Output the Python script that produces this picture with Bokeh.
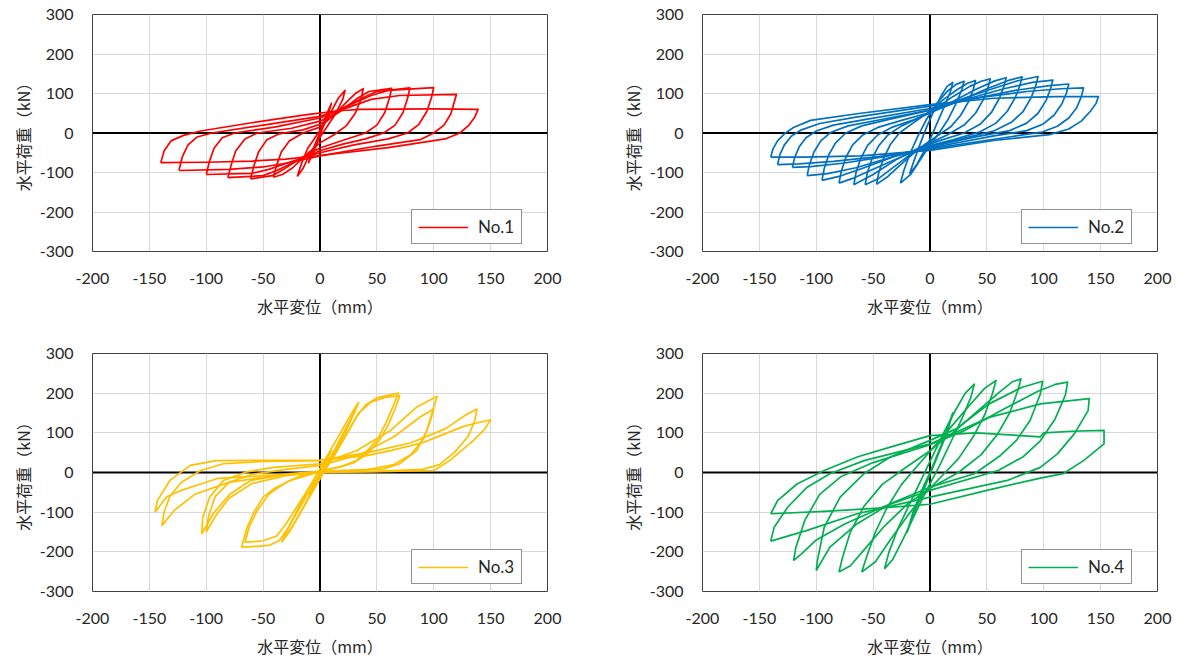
from bokeh.plotting import figure
from bokeh.layouts import column, row
from bokeh.models import Range1d, FixedTicker, Span, Legend, LegendItem
from bokeh.embed import file_html
from bokeh.resources import INLINE

# ---------------- axis ticks / labels ----------------
X_TICKS = [-200, -150, -100, -50, 0, 50, 100, 150, 200]
X_TICK_LABELS = ["-200", "-150", "-100", "-50", "0", "50", "100", "150", "200"]
Y_TICKS = [-300, -200, -100, 0, 100, 200, 300]
Y_TICK_LABELS = ["-300", "-200", "-100", "0", "100", "200", "300"]
X_TITLE = "水平変位（mm）"
Y_TITLE = "水平荷重（kN）"

SERIES_NAMES = ["No.1", "No.2", "No.3", "No.4"]
SERIES_COLORS = ["#FF0000", "#0070C0", "#FFC000", "#00B050"]

# ---------------- hysteresis data (displacement mm, load kN) ----------------
NO1_CYCLES = [
    [(0, 0), (4, 35), (10, 75), (7, 45), (2, 10), (-3, -30), (-10, -75), (-6, -40), (-1, -5), (0, 0)],
    [(-20, -110), (-16, -75), (-11, -40), (-4, -10), (3, 20), (10, 55), (16, 88), (22, 108), (20, 85),
     (14, 50), (6, 15), (-2, -20), (-10, -60), (-15, -90), (-20, -110)],
    [(-41, -112), (-38, -80), (-34, -48), (-27, -20), (-15, 0), (0, 15), (12, 45), (24, 80), (32, 102),
     (38, 112), (36, 85), (31, 50), (23, 18), (12, -5), (0, -25), (-12, -55), (-24, -88), (-33, -105), (-41, -112)],
    [(-61, -116), (-58, -82), (-54, -48), (-47, -18), (-36, -2), (-15, 8), (0, 22), (18, 55), (33, 88),
     (43, 105), (63, 113), (61, 88), (57, 52), (50, 20), (40, 0), (25, -14), (0, -38), (-18, -65),
     (-32, -92), (-42, -108), (-61, -116)],
    [(-81, -113), (-78, -80), (-74, -45), (-66, -15), (-55, 0), (-25, 12), (0, 30), (20, 60), (38, 90),
     (50, 105), (79, 114), (77, 88), (73, 52), (66, 20), (56, 0), (40, -15), (20, -28), (0, -45),
     (-20, -70), (-38, -95), (-50, -108), (-81, -113)],
    [(-100, -105), (-97, -70), (-93, -38), (-86, -12), (-75, 0), (-40, 15), (0, 38), (25, 70), (45, 95),
     (60, 108), (100, 115), (98, 90), (94, 55), (87, 22), (77, 0), (60, -15), (30, -30), (0, -50),
     (-25, -72), (-45, -92), (-60, -102), (-100, -105)],
    [(-124, -95), (-121, -60), (-116, -30), (-108, -10), (-95, 0), (-50, 20), (0, 42), (25, 65), (45, 85),
     (70, 95), (120, 98), (118, 78), (115, 48), (109, 20), (100, 0), (88, -17), (50, -33), (0, -58),
     (-25, -74), (-50, -86), (-80, -92), (-124, -95)],
    [(-140, -75), (-137, -45), (-131, -20), (-120, -6), (-105, 5), (-60, 26), (-10, 47), (20, 57), (35, 60),
     (100, 61), (139, 60), (136, 40), (131, 20), (123, 0), (110, -15), (60, -37), (0, -57), (-30, -66),
     (-60, -71), (-100, -74), (-140, -75)],
]

NO2_CYCLES = [
    [(-18, -103), (-14, -70), (-9, -30), (-3, 15), (4, 60), (10, 95), (15, 118), (20, 128), (18, 105),
     (13, 70), (7, 30), (1, -10), (-6, -50), (-12, -82), (-18, -103)],
    [(-26, -127), (-23, -95), (-18, -55), (-11, -10), (-3, 35), (6, 75), (15, 105), (23, 123), (30, 131),
     (28, 110), (23, 75), (16, 35), (8, 0), (0, -30), (-9, -70), (-17, -105), (-26, -127)],
    [(-47, -130), (-45, -100), (-41, -65), (-35, -30), (-27, 0), (-15, 25), (0, 55), (12, 85), (24, 110),
     (33, 126), (40, 133), (38, 110), (34, 80), (27, 45), (18, 15), (5, -10), (-10, -40), (-25, -78),
     (-37, -110), (-47, -130)],
    [(-57, -131), (-55, -100), (-51, -65), (-45, -32), (-37, -5), (-25, 18), (-10, 38), (5, 62), (20, 92),
     (35, 118), (45, 131), (53, 137), (51, 115), (47, 85), (40, 50), (30, 20), (15, -5), (0, -25),
     (-15, -50), (-30, -82), (-45, -115), (-57, -131)],
    [(-67, -131), (-65, -100), (-61, -65), (-55, -32), (-46, -5), (-33, 15), (-15, 33), (0, 50), (20, 80),
     (40, 110), (57, 132), (67, 140), (65, 118), (61, 88), (54, 52), (44, 22), (30, 0), (10, -18),
     (-10, -38), (-30, -68), (-50, -105), (-67, -131)],
    [(-80, -127), (-78, -97), (-74, -62), (-68, -30), (-59, -5), (-45, 15), (-25, 32), (0, 52), (25, 80),
     (50, 112), (70, 134), (81, 142), (79, 120), (75, 90), (68, 55), (58, 25), (44, 3), (20, -17),
     (0, -32), (-25, -60), (-50, -92), (-68, -115), (-80, -127)],
    [(-95, -120), (-93, -90), (-89, -55), (-83, -25), (-74, 0), (-60, 18), (-35, 35), (0, 58), (30, 88),
     (55, 112), (78, 133), (95, 143), (93, 120), (89, 90), (82, 55), (72, 28), (56, 5), (30, -13),
     (0, -33), (-30, -58), (-58, -88), (-80, -110), (-95, -120)],
    [(-108, -108), (-106, -80), (-102, -48), (-96, -20), (-87, 2), (-72, 18), (-45, 33), (0, 58), (35, 88),
     (65, 112), (90, 128), (108, 134), (106, 112), (102, 82), (95, 50), (85, 25), (70, 6), (40, -10),
     (0, -35), (-35, -62), (-65, -88), (-90, -103), (-108, -108)],
    [(-121, -87), (-119, -62), (-115, -35), (-109, -12), (-100, 5), (-85, 20), (-55, 35), (0, 62), (40, 88),
     (75, 108), (105, 120), (122, 124), (120, 102), (116, 74), (109, 45), (99, 22), (85, 6), (55, -8),
     (0, -38), (-40, -60), (-75, -76), (-105, -85), (-121, -87)],
    [(-134, -80), (-132, -55), (-128, -30), (-122, -8), (-113, 8), (-97, 24), (-65, 40), (0, 68), (45, 90),
     (85, 105), (115, 112), (135, 114), (133, 92), (129, 64), (122, 38), (112, 17), (98, 2), (65, -12),
     (0, -40), (-45, -60), (-85, -72), (-115, -78), (-134, -80)],
    [(-140, -61), (-138, -40), (-134, -20), (-128, -2), (-120, 14), (-105, 32), (-61, 50), (0, 72), (56, 88),
     (110, 92), (148, 92), (146, 75), (141, 55), (133, 30), (122, 10), (105, -4), (56, -19), (0, -44),
     (-61, -58), (-110, -61), (-140, -61)],
]

NO3_CYCLES = [
    [(0, 0), (5, 30), (10, 55), (5, 25), (0, -3), (-5, -30), (-10, -55), (-5, -25), (0, 0)],
    [(-34, -176), (-28, -140), (-20, -95), (-10, -40), (0, 10), (10, 60), (20, 110), (28, 150), (34, 177),
     (30, 150), (22, 100), (12, 45), (2, -5), (-8, -55), (-18, -105), (-27, -150), (-34, -176)],
    [(-33, -172), (-25, -140), (-15, -90), (-5, -40), (5, 10), (15, 65), (25, 120), (33, 170), (27, 135),
     (17, 80), (7, 25), (-3, -25), (-13, -80), (-23, -130), (-33, -172)],
    [(-69, -188), (-55, -186), (-44, -183), (-36, -172), (-28, -140), (-20, -100), (-10, -50), (0, -10),
     (10, 30), (22, 90), (32, 140), (40, 170), (50, 188), (69, 200), (64, 165), (58, 125), (50, 81),
     (40, 50), (32, 30), (20, 16), (9, 9), (0, 2), (-12, -8), (-26, -20), (-40, -40), (-50, -62),
     (-58, -100), (-64, -138), (-69, -188)],
    [(-66, -176), (-50, -172), (-38, -160), (-30, -130), (-20, -85), (-10, -40), (0, -5), (12, 40),
     (24, 100), (34, 150), (45, 178), (58, 190), (70, 193), (66, 160), (60, 120), (52, 80), (42, 48),
     (30, 25), (15, 12), (0, 4), (-15, -6), (-30, -25), (-45, -55), (-55, -95), (-62, -135), (-66, -176)],
    [(-104, -155), (-103, -113), (-97, -62), (-85, -20), (-65, 1), (-41, 13), (0, 22), (32, 55), (62, 106),
     (85, 165), (103, 192), (100, 165), (94, 106), (85, 55), (70, 22), (56, 9), (0, 3), (-26, -3),
     (-61, -20), (-79, -54), (-94, -104), (-104, -155)],
    [(-100, -150), (-98, -110), (-92, -60), (-80, -25), (-60, -5), (-30, 8), (0, 18), (35, 45), (65, 90),
     (88, 140), (100, 160), (97, 130), (91, 85), (80, 45), (65, 20), (40, 6), (0, 1), (-30, -8),
     (-60, -28), (-80, -65), (-92, -110), (-100, -150)],
    [(-139, -134), (-137, -100), (-132, -60), (-122, -25), (-105, 5), (-85, 22), (-50, 28), (0, 30),
     (45, 52), (80, 75), (110, 110), (128, 145), (138, 160), (136, 130), (130, 90), (118, 50), (105, 20),
     (90, 8), (50, 3), (0, 0), (-40, -8), (-80, -25), (-110, -55), (-128, -95), (-139, -134)],
    [(-145, -100), (-143, -71), (-132, -20), (-114, 18), (-91, 30), (0, 31), (40, 42), (62, 55), (90, 75),
     (106, 93), (125, 115), (135, 123), (150, 133), (145, 110), (135, 81), (114, 30), (100, 5), (60, 3),
     (0, 0), (-50, -8), (-90, -15), (-105, -29), (-122, -45), (-135, -62), (-145, -100)],
]

NO4_CYCLES = [
    [(0, 0), (10, 70), (20, 150), (15, 100), (5, 30), (-5, -40), (-15, -110), (-20, -150), (-15, -100),
     (-5, -30), (0, 0)],
    [(-40, -243), (-36, -200), (-28, -140), (-18, -80), (-8, -20), (2, 40), (12, 100), (22, 155), (31, 200),
     (39, 223), (36, 190), (28, 135), (18, 75), (8, 15), (-4, -50), (-14, -110), (-24, -170), (-33, -220),
     (-40, -243)],
    [(-60, -251), (-56, -215), (-48, -150), (-38, -90), (-25, -30), (-10, 20), (5, 70), (20, 120), (35, 170),
     (48, 212), (58, 232), (55, 200), (48, 145), (38, 90), (25, 35), (10, -10), (-5, -55), (-20, -110),
     (-35, -170), (-48, -225), (-60, -251)],
    [(-80, -251), (-77, -215), (-70, -150), (-58, -85), (-42, -30), (-20, 15), (0, 55), (20, 100), (40, 150),
     (60, 200), (72, 228), (80, 236), (77, 205), (70, 150), (59, 95), (45, 45), (25, 0), (0, -40),
     (-20, -80), (-40, -135), (-58, -195), (-70, -235), (-80, -251)],
    [(-100, -247), (-99, -222), (-93, -138), (-79, -62), (-58, -3), (-35, 39), (0, 81), (23, 110), (52, 173),
     (81, 215), (99, 230), (97, 198), (88, 131), (76, 81), (62, 43), (39, -3), (0, -37), (-35, -79),
     (-64, -129), (-88, -188), (-100, -247)],
    [(-120, -222), (-118, -190), (-110, -120), (-97, -55), (-78, -10), (-50, 25), (0, 70), (30, 105),
     (65, 160), (95, 205), (110, 222), (121, 228), (119, 195), (110, 135), (97, 80), (82, 40), (60, 5),
     (0, -45), (-40, -85), (-75, -130), (-100, -170), (-113, -205), (-120, -222)],
    [(-140, -173), (-137, -138), (-125, -87), (-108, -37), (-88, -3), (-58, 30), (-23, 55), (0, 72),
     (52, 139), (97, 173), (140, 186), (139, 156), (127, 98), (112, 47), (97, 13), (68, -20), (0, -62),
     (-64, -104), (-108, -146), (-140, -173)],
    [(-140, -104), (-134, -71), (-117, -29), (-93, 5), (-64, 39), (-35, 64), (0, 93), (40, 100), (97, 90),
     (100, 100), (125, 104), (153, 106), (153, 72), (135, 30), (117, -3), (97, -14), (50, -45), (0, -80),
     (-45, -90), (-93, -98), (-140, -104)],
]

ALL_CYCLES = [NO1_CYCLES, NO2_CYCLES, NO3_CYCLES, NO4_CYCLES]

TICK_FONT = "Lato"
CJK_FONT = "Noto Sans CJK JP"


def make_panel(cycles, name, color, width, height, b_left, b_right, b_top, b_bottom):
    p = figure(width=width, height=height,
               x_range=Range1d(-200, 200), y_range=Range1d(-300, 300),
               output_backend="svg", toolbar_location=None,
               min_border_left=b_left, min_border_right=b_right,
               min_border_top=b_top, min_border_bottom=b_bottom)
    p.background_fill_color = "white"
    p.border_fill_color = "white"
    p.outline_line_color = "#404040"
    p.outline_line_width = 1

    p.xaxis.ticker = FixedTicker(ticks=X_TICKS)
    p.yaxis.ticker = FixedTicker(ticks=Y_TICKS)
    p.xaxis.major_label_overrides = {t: s for t, s in zip(X_TICKS, X_TICK_LABELS)}
    p.yaxis.major_label_overrides = {t: s for t, s in zip(Y_TICKS, Y_TICK_LABELS)}
    for ax in (p.xaxis, p.yaxis):
        ax.axis_line_color = None
        ax.major_tick_line_color = None
        ax.minor_tick_line_color = None
        ax.major_label_text_font = TICK_FONT
        ax.major_label_text_font_size = "16px"
        ax.major_label_text_color = "#262626"
        ax.axis_label_text_font = CJK_FONT
        ax.axis_label_text_font_size = "16px"
        ax.axis_label_text_font_style = "normal"
        ax.axis_label_text_color = "#262626"
    p.xaxis.major_label_standoff = 15
    p.yaxis.major_label_standoff = 13
    p.xaxis.axis_label = X_TITLE
    p.yaxis.axis_label = Y_TITLE
    p.xaxis.axis_label_standoff = 7
    p.yaxis.axis_label_standoff = 2

    p.xgrid.ticker = FixedTicker(ticks=X_TICKS)
    p.ygrid.ticker = FixedTicker(ticks=Y_TICKS)
    p.grid.grid_line_color = "#D9D9D9"
    p.grid.grid_line_width = 1

    p.add_layout(Span(location=0, dimension="height", line_color="black", line_width=2, level="underlay"))
    p.add_layout(Span(location=0, dimension="width", line_color="black", line_width=2, level="underlay"))

    xs = [[pt[0] for pt in c] for c in cycles]
    ys = [[pt[1] for pt in c] for c in cycles]
    r = p.multi_line(xs, ys, line_color=color, line_width=1.7, line_join="round")

    legend = Legend(items=[LegendItem(label=name, renderers=[r])],
                    location=(319, 7), padding=6, margin=0, spacing=0,
                    glyph_width=50, glyph_height=18, label_standoff=10, label_width=37,
                    label_text_font=TICK_FONT, label_text_font_size="17px",
                    label_text_color="#262626",
                    border_line_color="#262626", border_line_width=1,
                    background_fill_color="white", background_fill_alpha=1.0)
    p.add_layout(legend)
    return p


p1 = make_panel(ALL_CYCLES[0], SERIES_NAMES[0], SERIES_COLORS[0], 610, 339, 92, 63, 14, 88)
p2 = make_panel(ALL_CYCLES[1], SERIES_NAMES[1], SERIES_COLORS[1], 570, 339, 92, 23, 14, 88)
p3 = make_panel(ALL_CYCLES[2], SERIES_NAMES[2], SERIES_COLORS[2], 610, 322, 92, 63, 14, 70)
p4 = make_panel(ALL_CYCLES[3], SERIES_NAMES[3], SERIES_COLORS[3], 570, 322, 92, 23, 14, 70)

layout = column(row(p1, p2, spacing=0), row(p3, p4, spacing=0), spacing=0)

open("out.html", "w").write(file_html(layout, INLINE))
